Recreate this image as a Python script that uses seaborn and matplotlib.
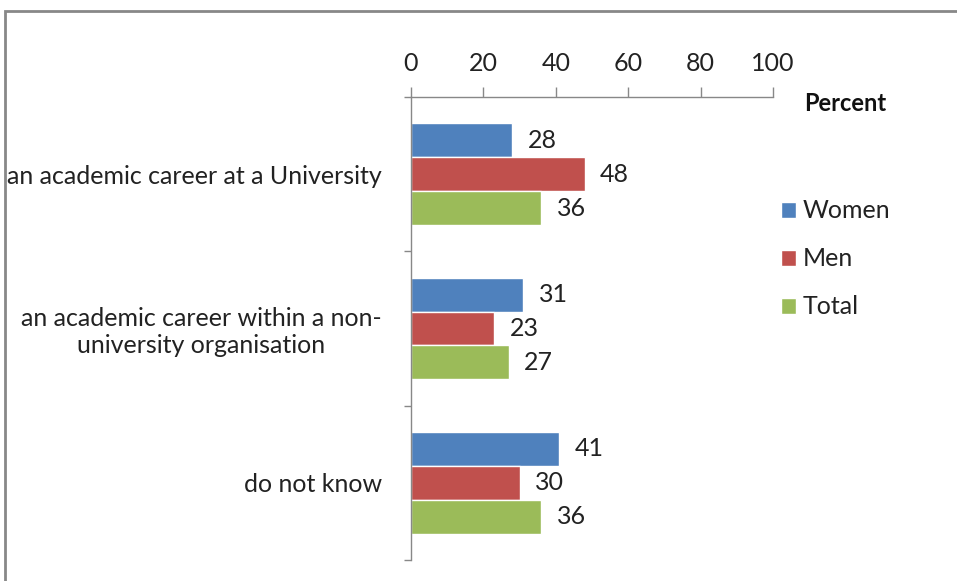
import numpy as np
import pandas as pd
import matplotlib.pyplot as plt
from matplotlib.patches import Rectangle
from matplotlib.ticker import FixedLocator
import seaborn as sns

# --- Data ---
categories = ["an academic career at a University",
              "an academic career within a non-\nuniversity organisation",
              "do not know"]
groups = ["Women", "Men", "Total"]
women = [28, 31, 41]
men = [48, 23, 30]
total = [36, 27, 36]
colors = ["#4F81BD", "#C0504D", "#9BBB59"]

df = pd.DataFrame({
    "category": categories * 3,
    "group": ["Women"] * 3 + ["Men"] * 3 + ["Total"] * 3,
    "value": women + men + total,
})

# --- Style ---
sns.set_style("white")
plt.rcParams["font.family"] = ["Lato", "DejaVu Sans"]
FS = 18

fig = plt.figure(figsize=(9.57, 5.81), dpi=100)
ax = fig.add_axes([411 / 957, 1 - 560 / 581, (773 - 411) / 957, (560 - 97) / 581])

sns.barplot(data=df, y="category", x="value", hue="group", order=categories,
            hue_order=groups, palette=colors, width=0.66, orient="h",
            saturation=1, ax=ax, legend=True)

for cont in ax.containers:
    ax.bar_label(cont, fmt="%d", padding=11, fontsize=FS, color="#222222")

ax.set_xlim(0, 100)
ax.set_ylim(2.5, -0.5)
ax.set_xticks([0, 20, 40, 60, 80, 100])
ax.xaxis.tick_top()
ax.tick_params(axis="x", which="major", direction="out", length=7, width=1,
               color="#888888", labelsize=FS, pad=9, labelcolor="#222222")
ax.tick_params(axis="y", which="major", length=0, labelsize=FS, pad=21,
               labelcolor="#222222")
ax.yaxis.set_minor_locator(FixedLocator([-0.5, 0.5, 1.5, 2.5]))
ax.tick_params(axis="y", which="minor", direction="out", length=5, width=1,
               color="#888888", left=True)
for lab in ax.get_yticklabels():
    lab.set_multialignment("center")
ax.set_xlabel("")
ax.set_ylabel("")

for side in ["right", "bottom"]:
    ax.spines[side].set_visible(False)
for side in ["top", "left"]:
    ax.spines[side].set_color("#888888")
    ax.spines[side].set_linewidth(1)

fig.text(886 / 957, 1 - 104 / 581, "Percent", ha="right", va="center",
         fontsize=FS - 1, fontweight="bold", color="#111111")

leg = ax.legend(loc="center left", bbox_to_anchor=(768 / 957, 1 - 259 / 581),
                bbox_transform=fig.transFigure, frameon=False, fontsize=FS,
                handlelength=0.6, handleheight=0.6, handletextpad=0.3,
                labelspacing=1.0, borderpad=0)
for t in leg.get_texts():
    t.set_color("#222222")

# outer chart frame
fig.patches.append(Rectangle((5 / 957, -0.05), 1.2, 1 - 11 / 581 + 0.05,
                             transform=fig.transFigure, fill=False,
                             edgecolor="#888888", linewidth=2))

fig.savefig("out.png", dpi=100)
